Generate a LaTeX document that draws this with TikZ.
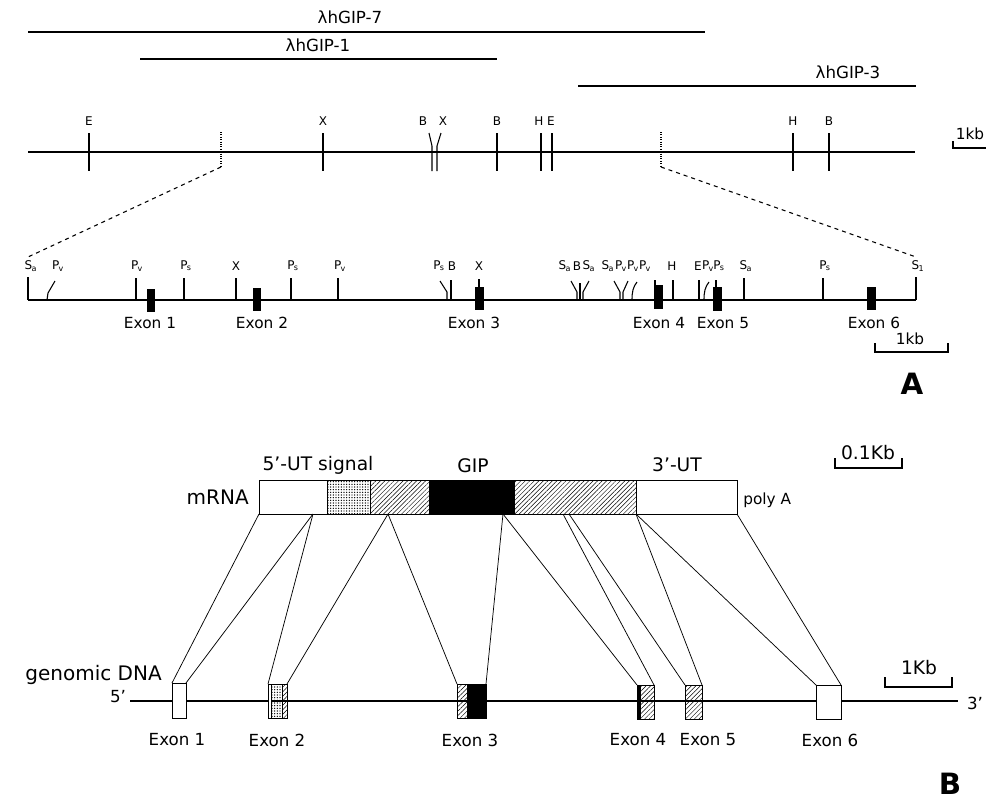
\documentclass[tikz,border=0pt]{standalone}
\usepackage{fontspec}
\setmainfont{DejaVu Sans}
\usepackage{tikz}
\usetikzlibrary{patterns.meta}
\newcommand{\clonefont}{\fontsize{12.5}{14}\selectfont}
\newcommand{\sitefont}{\fontsize{9}{11}\selectfont}
\newcommand{\exonAfont}{\fontsize{11.5}{13}\selectfont}
\newcommand{\barfont}{\fontsize{11.5}{13}\selectfont}
\newcommand{\panelfont}{\fontsize{22}{26}\selectfont\bfseries}
\newcommand{\molfont}{\fontsize{15}{18}\selectfont}
\newcommand{\regionfont}{\fontsize{14}{16}\selectfont}
\newcommand{\exonBfont}{\fontsize{12.5}{14}\selectfont}
\newcommand{\Psub}[1]{P\kern-0.5pt\textsubscript{#1}}
\newcommand{\Ssub}[1]{S\kern-0.5pt\textsubscript{#1}}
\tikzset{
  clone/.style={line width=1.1pt},
  mapline/.style={line width=0.9pt},
  sitetick/.style={line width=0.8pt},
  exonmark/.style={draw=black, fill=black, line width=0.6pt},
  hatchfill/.style={draw=black, line width=0.7pt, pattern={Lines[angle=45,distance=2.4pt,line width=0.35pt]}},
  dotfill/.style={draw=black, line width=0.7pt, pattern={Dots[distance=2pt,radius=0.55pt]}},
  boxpart/.style={draw=black, line width=0.7pt},
  joinline/.style={line width=0.55pt},
  txt/.style={inner sep=0.75pt}
}
\begin{document}
\begin{tikzpicture}[x=0.75pt,y=0.75pt,yscale=-1,xscale=1]
\path [use as bounding box] (0,0) rectangle (986,807);

%Straight Lines  clone inserts
\draw [clone] (28,32) -- (705,32) ;
\draw [clone] (140,59) -- (497,59) ;
\draw [clone] (578,86) -- (916,86) ;
% Text Node
\draw (350,17) node (clone7) [txt] [font=\clonefont] {λhGIP-7};
% Text Node
\draw (318,45) node (clone1) [txt] [font=\clonefont] {λhGIP-1};
% Text Node
\draw (848,72) node (clone3) [txt] [font=\clonefont] {λhGIP-3};

%Straight Lines  restriction map
\draw [mapline] (28,152) -- (915,152) ;
\draw [sitetick] (89,133) -- (89,171) ;
\draw [sitetick] (323,133) -- (323,171) ;
\draw [sitetick] (429,133) -- (432,146) -- (432,171) ;
\draw [sitetick] (441,133) -- (437,146) -- (437,171) ;
\draw [sitetick] (497,133) -- (497,171) ;
\draw [sitetick] (541,133) -- (541,171) ;
\draw [sitetick] (552,133) -- (552,171) ;
\draw [sitetick] (793,133) -- (793,171) ;
\draw [sitetick] (829,133) -- (829,171) ;
% Text Node
\draw (89,121) node (mE1) [txt] [font=\sitefont] {E};
\draw (323,121) node (mX1) [txt] [font=\sitefont] {X};
\draw (423,121) node (mB1) [txt] [font=\sitefont] {B};
\draw (443,121) node (mX2) [txt] [font=\sitefont] {X};
\draw (497,121) node (mB2) [txt] [font=\sitefont] {B};
\draw (539,121) node (mH1) [txt] [font=\sitefont] {H};
\draw (551,121) node (mE2) [txt] [font=\sitefont] {E};
\draw (793,121) node (mH2) [txt] [font=\sitefont] {H};
\draw (829,121) node (mB3) [txt] [font=\sitefont] {B};

%Zoomed region
\coordinate (zoomL) at (221,167);
\coordinate (zoomR) at (661,167);
\coordinate (fineL) at (28,257);
\coordinate (fineR) at (916,257);
\draw [sitetick, densely dotted] (221,132) -- (zoomL) ;
\draw [sitetick, densely dotted] (661,132) -- (zoomR) ;
\draw [sitetick, dashed] (zoomL) -- (fineL) ;
\draw [sitetick, dashed] (zoomR) -- (fineR) ;

%Scale bar 1kb (top)
\draw [sitetick] (953,141) -- (953,148) -- (988,148) ;
\draw (970,134) node (bar1) [txt] [font=\barfont] {1kb};

%Straight Lines  detailed map
\draw [mapline] (28,300) -- (916,300) ;
\draw [sitetick] (28,277) -- (28,300) ;
\draw [sitetick] (47,300) -- (48,293) -- (55,281) ;
\draw [sitetick] (136,278) -- (136,300) ;
\draw [sitetick] (184,278) -- (184,300) ;
\draw [sitetick] (236,278) -- (236,300) ;
\draw [sitetick] (291,278) -- (291,300) ;
\draw [sitetick] (338,278) -- (338,300) ;
\draw [sitetick] (440,281) -- (447,292) -- (447,300) ;
\draw [sitetick] (451,280) -- (451,300) ;
\draw [sitetick] (479,279) -- (479,300) ;
\draw [sitetick] (571,281) -- (577,292) -- (577,300) ;
\draw [sitetick] (580,283) -- (580,300) ;
\draw [sitetick] (589,281) -- (583,292) -- (583,300) ;
\draw [sitetick] (614,281) -- (620,292) -- (620,300) ;
\draw [sitetick] (628,281) -- (623,292) -- (623,300) ;
\draw [sitetick] (637,282) .. controls (633,287) and (632,292) .. (632,300) ;
\draw [sitetick] (655,280) -- (655,300) ;
\draw [sitetick] (673,280) -- (673,300) ;
\draw [sitetick] (699,280) -- (699,300) ;
\draw [sitetick] (709,282) .. controls (705,287) and (704,292) .. (704,300) ;
\draw [sitetick] (716,280) -- (716,300) ;
\draw [sitetick] (744,278) -- (744,300) ;
\draw [sitetick] (823,278) -- (823,300) ;
\draw [sitetick] (916,277) -- (916,300) ;
%Exon marks
\draw [exonmark] (147,289) rectangle (154,311) ;
\draw [exonmark] (253,288) rectangle (260,310) ;
\draw [exonmark] (475,287) rectangle (483,309) ;
\draw [exonmark] (654,285) rectangle (662,308) ;
\draw [exonmark] (713,287) rectangle (721,310) ;
\draw [exonmark] (867,287) rectangle (875,309) ;
% Text Node
\draw (31,266) node (dS1) [txt] [font=\sitefont] {\Ssub{a}};
\draw (58,266) node (dP1) [txt] [font=\sitefont] {\Psub{v}};
\draw (137,266) node (dP2) [txt] [font=\sitefont] {\Psub{v}};
\draw (186,266) node (dP3) [txt] [font=\sitefont] {\Psub{s}};
\draw (236,266) node (dX1) [txt] [font=\sitefont] {X};
\draw (293,266) node (dP4) [txt] [font=\sitefont] {\Psub{s}};
\draw (340,266) node (dP5) [txt] [font=\sitefont] {\Psub{v}};
\draw (439,266) node (dP6) [txt] [font=\sitefont] {\Psub{s}};
\draw (452,266) node (dB1) [txt] [font=\sitefont] {B};
\draw (479,266) node (dX2) [txt] [font=\sitefont] {X};
\draw (565,266) node (dS2) [txt] [font=\sitefont] {\Ssub{a}};
\draw (577,266) node (dB2) [txt] [font=\sitefont] {B};
\draw (589,266) node (dS3) [txt] [font=\sitefont] {\Ssub{a}};
\draw (608,266) node (dS4) [txt] [font=\sitefont] {\Ssub{a}};
\draw (621,266) node (dP7) [txt] [font=\sitefont] {\Psub{v}};
\draw (633,266) node (dP8) [txt] [font=\sitefont] {\Psub{v}};
\draw (645,266) node (dP9) [txt] [font=\sitefont] {\Psub{v}};
\draw (672,266) node (dH1) [txt] [font=\sitefont] {H};
\draw (698,266) node (dE1) [txt] [font=\sitefont] {E};
\draw (708,266) node (dP10) [txt] [font=\sitefont] {\Psub{v}};
\draw (719,266) node (dP11) [txt] [font=\sitefont] {\Psub{s}};
\draw (746,266) node (dS5) [txt] [font=\sitefont] {\Ssub{a}};
\draw (825,266) node (dP12) [txt] [font=\sitefont] {\Psub{s}};
\draw (918,266) node (dS6) [txt] [font=\sitefont] {\Ssub{1}};
% Text Node
\draw (150,323) node (exA1) [txt] [font=\exonAfont] {Exon 1};
\draw (262,323) node (exA2) [txt] [font=\exonAfont] {Exon 2};
\draw (474,323) node (exA3) [txt] [font=\exonAfont] {Exon 3};
\draw (659,323) node (exA4) [txt] [font=\exonAfont] {Exon 4};
\draw (723,323) node (exA5) [txt] [font=\exonAfont] {Exon 5};
\draw (874,323) node (exA6) [txt] [font=\exonAfont] {Exon 6};

%Scale bar 1kb (detail)
\draw [sitetick] (875,343) -- (875,352) -- (948,352) -- (948,343) ;
\draw (910,339) node (bar2) [txt] [font=\barfont] {1kb};
% Text Node
\draw (912,384) node (panelA) [txt] [font=\panelfont] {A};

%Scale bar 0.1Kb
\draw [sitetick] (835,458) -- (835,468) -- (902,468) -- (902,458) ;
\draw (868,453) node (bar3) [txt] [font=\regionfont] {0.1Kb};

%mRNA
\draw [boxpart, fill=white] (259,480) rectangle (327,514) ;
\draw [dotfill] (327,480) rectangle (370,514) ;
\draw [hatchfill] (370,480) rectangle (429,514) ;
\draw [boxpart, fill=black] (429,480) rectangle (514,514) ;
\draw [hatchfill] (514,480) rectangle (636,514) ;
\draw [boxpart, fill=white] (636,480) rectangle (737,514) ;
% Text Node
\draw (318,465) node (utr5) [txt] [font=\regionfont] {5'-UT signal};
\draw (473,466) node (gipreg) [txt] [font=\regionfont] {GIP};
\draw (677,465) node (utr3) [txt] [font=\regionfont] {3'-UT};
\draw (250,497) node (mrna) [txt, anchor=east] [font=\molfont] {mRNA};
\draw (742,500) node (polyA) [txt, anchor=west] [font=\barfont] {poly A};

%exon borders on mRNA
\coordinate (mA) at (259,514);
\coordinate (mB) at (313,514);
\coordinate (mC) at (388,514);
\coordinate (mD) at (503,514);
\coordinate (mE) at (563,514);
\coordinate (mF) at (569,514);
\coordinate (mG) at (636,514);
\coordinate (mH) at (737,514);

%genomic DNA
\draw [mapline] (130,701) -- (958,701) ;
\draw [boxpart, fill=white] (172,683) rectangle (186,718) ;
\draw [boxpart, fill=white] (268,684) rectangle (271,718) ;
\draw [dotfill] (271,684) rectangle (282,718) ;
\draw [hatchfill] (282,684) rectangle (287,718) ;
\draw [hatchfill] (457,684) rectangle (467,718) ;
\draw [boxpart, fill=black] (467,684) rectangle (486,718) ;
\draw [boxpart, fill=black] (637,685) rectangle (640,719) ;
\draw [hatchfill] (640,685) rectangle (654,719) ;
\draw [hatchfill] (685,685) rectangle (702,719) ;
\draw [boxpart, fill=white] (816,685) rectangle (841,719) ;
\coordinate (g1L) at (172,683);
\coordinate (g1R) at (186,683);
\coordinate (g2L) at (268,684);
\coordinate (g2R) at (287,684);
\coordinate (g3L) at (457,684);
\coordinate (g3R) at (486,684);
\coordinate (g4L) at (637,685);
\coordinate (g4R) at (654,685);
\coordinate (g5L) at (685,685);
\coordinate (g5R) at (702,685);
\coordinate (g6L) at (816,685);
\coordinate (g6R) at (841,685);

%Straight Lines  mRNA to exons
\draw [joinline] (mA) -- (g1L) ;
\draw [joinline] (mB) -- (g1R) ;
\draw [joinline] (mB) -- (g2L) ;
\draw [joinline] (mC) -- (g2R) ;
\draw [joinline] (mC) -- (g3L) ;
\draw [joinline] (mD) -- (g3R) ;
\draw [joinline] (mD) -- (g4L) ;
\draw [joinline] (mE) -- (g4R) ;
\draw [joinline] (mF) -- (g5L) ;
\draw [joinline] (mG) -- (g5R) ;
\draw [joinline] (mG) -- (g6L) ;
\draw [joinline] (mH) -- (g6R) ;

% Text Node
\draw (163,675) node (gdna) [txt, anchor=east] [font=\molfont] {genomic DNA};
\draw (118,697) node (end5) [txt] [font=\exonBfont] {5'};
\draw (975,703) node (end3) [txt] [font=\exonBfont] {3'};
\draw (177,740) node (exB1) [txt] [font=\exonBfont] {Exon 1};
\draw (277,740) node (exB2) [txt] [font=\exonBfont] {Exon 2};
\draw (470,740) node (exB3) [txt] [font=\exonBfont] {Exon 3};
\draw (638,740) node (exB4) [txt] [font=\exonBfont] {Exon 4};
\draw (708,740) node (exB5) [txt] [font=\exonBfont] {Exon 5};
\draw (830,740) node (exB6) [txt] [font=\exonBfont] {Exon 6};

%Scale bar 1Kb (genomic)
\draw [sitetick] (885,677) -- (885,687) -- (952,687) -- (952,677) ;
\draw (919,668) node (bar4) [txt] [font=\regionfont] {1Kb};
% Text Node
\draw (950,784) node (panelB) [txt] [font=\panelfont] {B};

\end{tikzpicture}
\end{document}
